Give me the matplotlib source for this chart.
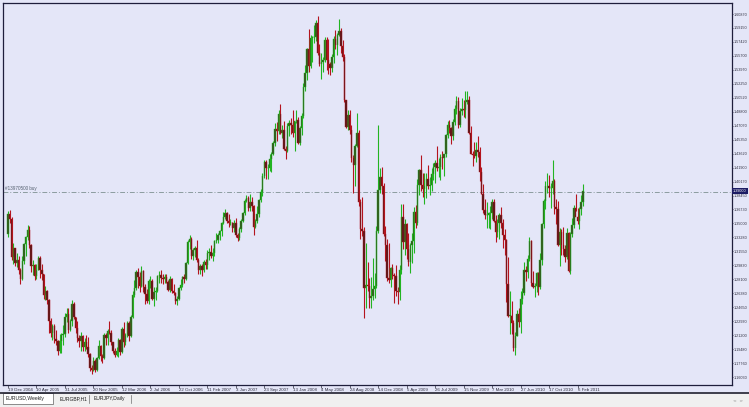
import numpy as np
import matplotlib
matplotlib.use("Agg")
import matplotlib.pyplot as plt
from matplotlib.patches import Rectangle
from matplotlib.transforms import blended_transform_factory

## weekly EURUSD candles, one week per entry (first week starts 19 Dec 2004)
opens = [
    # Dec 2004 - 2005
    1.337, 1.362, 1.356, 1.308, 1.320, 1.301, 1.305, 1.292, 1.282, 1.304,
    1.325, 1.333, 1.342, 1.323, 1.297, 1.299, 1.285, 1.293, 1.307, 1.293,
    1.287, 1.262, 1.266, 1.255, 1.230, 1.215, 1.223, 1.207, 1.205, 1.192,
    1.205, 1.212, 1.213, 1.235, 1.238, 1.218, 1.229, 1.251, 1.234, 1.221,
    1.208, 1.205, 1.211, 1.197, 1.203, 1.198, 1.189, 1.171, 1.169, 1.180,
    1.169, 1.184, 1.199, 1.186,
    # 2006
    1.184, 1.212, 1.208, 1.217, 1.215, 1.203, 1.192, 1.188, 1.192, 1.206,
    1.191, 1.220, 1.204, 1.212, 1.227, 1.211, 1.235, 1.262, 1.270, 1.290,
    1.284, 1.273, 1.291, 1.271, 1.263, 1.254, 1.279, 1.279, 1.257, 1.265,
    1.266, 1.285, 1.286, 1.283, 1.281, 1.284, 1.278, 1.268, 1.282, 1.267,
    1.264, 1.254, 1.257, 1.270, 1.274, 1.284, 1.282, 1.301, 1.327, 1.331,
    1.310, 1.317,
    # 2007
    1.320, 1.305, 1.293, 1.297, 1.292, 1.302, 1.299, 1.313, 1.315, 1.310,
    1.313, 1.328, 1.330, 1.336, 1.341, 1.351, 1.358, 1.363, 1.353, 1.351,
    1.351, 1.345, 1.351, 1.336, 1.332, 1.343, 1.353, 1.363, 1.378, 1.381,
    1.369, 1.376, 1.371, 1.346, 1.353, 1.362, 1.379, 1.389, 1.409, 1.426,
    1.418, 1.419, 1.430, 1.436, 1.450, 1.467, 1.464, 1.485, 1.462, 1.466,
    1.442, 1.440,
    # 2008
    1.470, 1.474, 1.472, 1.462, 1.476, 1.478, 1.450, 1.468, 1.483, 1.519,
    1.536, 1.566, 1.544, 1.579, 1.580, 1.580, 1.597, 1.561, 1.547, 1.550,
    1.552, 1.576, 1.552, 1.547, 1.542, 1.556, 1.578, 1.570, 1.583, 1.588,
    1.569, 1.555, 1.502, 1.469, 1.484, 1.466, 1.431, 1.422, 1.446, 1.462,
    1.377, 1.343, 1.341, 1.270, 1.274, 1.273, 1.258, 1.261, 1.269, 1.273,
    1.341, 1.391, 1.407,
    # 2009
    1.396, 1.337, 1.323, 1.283, 1.280, 1.295, 1.286, 1.285, 1.267, 1.265,
    1.292, 1.358, 1.327, 1.349, 1.318, 1.302, 1.324, 1.328, 1.364, 1.351,
    1.398, 1.416, 1.397, 1.393, 1.396, 1.405, 1.396, 1.398, 1.411, 1.420,
    1.425, 1.418, 1.420, 1.432, 1.431, 1.436, 1.459, 1.472, 1.468, 1.458,
    1.475, 1.491, 1.501, 1.472, 1.489, 1.491, 1.490, 1.500, 1.503, 1.462,
    1.436, 1.434,
    # 2010 - Feb 2011
    1.433, 1.441, 1.438, 1.414, 1.386, 1.367, 1.360, 1.361, 1.363, 1.363,
    1.377, 1.353, 1.339, 1.350, 1.361, 1.350, 1.336, 1.329, 1.275, 1.236,
    1.236, 1.227, 1.196, 1.211, 1.238, 1.228, 1.257, 1.264, 1.293, 1.290,
    1.306, 1.328, 1.276, 1.272, 1.273, 1.289, 1.271, 1.305, 1.349, 1.378,
    1.396, 1.396, 1.394, 1.394, 1.403, 1.370, 1.368, 1.324, 1.340, 1.323,
    1.318, 1.308, 1.338, 1.291, 1.337, 1.348, 1.369, 1.358, 1.353, 1.368,
    1.376,
]

highs = [
    1.366, 1.367, 1.358, 1.326, 1.320, 1.313, 1.310, 1.295, 1.310, 1.326,
    1.335, 1.348, 1.347, 1.325, 1.305, 1.300, 1.300, 1.310, 1.310, 1.300,
    1.288, 1.273, 1.268, 1.257, 1.233, 1.226, 1.226, 1.218, 1.206, 1.213,
    1.215, 1.225, 1.240, 1.245, 1.245, 1.232, 1.256, 1.253, 1.235, 1.230,
    1.212, 1.216, 1.212, 1.208, 1.212, 1.210, 1.190, 1.175, 1.185, 1.183,
    1.185, 1.206, 1.200, 1.189,
    1.215, 1.215, 1.220, 1.230, 1.218, 1.204, 1.196, 1.198, 1.208, 1.207,
    1.222, 1.228, 1.215, 1.230, 1.230, 1.237, 1.266, 1.280, 1.292, 1.295,
    1.290, 1.297, 1.292, 1.275, 1.269, 1.282, 1.285, 1.282, 1.272, 1.272,
    1.286, 1.291, 1.292, 1.288, 1.288, 1.288, 1.280, 1.285, 1.283, 1.275,
    1.265, 1.260, 1.272, 1.281, 1.285, 1.288, 1.303, 1.330, 1.336, 1.333,
    1.320, 1.322,
    1.330, 1.307, 1.300, 1.300, 1.305, 1.306, 1.317, 1.320, 1.323, 1.320,
    1.330, 1.338, 1.338, 1.342, 1.352, 1.364, 1.368, 1.364, 1.362, 1.356,
    1.352, 1.354, 1.357, 1.338, 1.346, 1.355, 1.364, 1.380, 1.385, 1.384,
    1.387, 1.383, 1.373, 1.356, 1.372, 1.380, 1.393, 1.412, 1.428, 1.428,
    1.423, 1.436, 1.438, 1.452, 1.474, 1.475, 1.490, 1.497, 1.472, 1.477,
    1.446, 1.474,
    1.478, 1.480, 1.490, 1.477, 1.490, 1.482, 1.470, 1.486, 1.524, 1.546,
    1.567, 1.590, 1.583, 1.582, 1.595, 1.601, 1.606, 1.572, 1.560, 1.556,
    1.580, 1.580, 1.578, 1.549, 1.559, 1.581, 1.589, 1.585, 1.603, 1.592,
    1.577, 1.559, 1.503, 1.490, 1.490, 1.472, 1.434, 1.448, 1.487, 1.466,
    1.380, 1.383, 1.346, 1.326, 1.303, 1.283, 1.284, 1.307, 1.289, 1.347,
    1.472, 1.419, 1.420,
    1.400, 1.347, 1.331, 1.326, 1.296, 1.300, 1.289, 1.299, 1.271, 1.299,
    1.374, 1.374, 1.356, 1.350, 1.338, 1.326, 1.338, 1.370, 1.373, 1.405,
    1.417, 1.435, 1.412, 1.412, 1.412, 1.422, 1.408, 1.419, 1.425, 1.429,
    1.446, 1.431, 1.436, 1.440, 1.436, 1.461, 1.477, 1.478, 1.469, 1.479,
    1.496, 1.508, 1.506, 1.493, 1.505, 1.502, 1.514, 1.514, 1.507, 1.471,
    1.440, 1.451,
    1.451, 1.458, 1.444, 1.420, 1.399, 1.380, 1.377, 1.364, 1.371, 1.380,
    1.380, 1.361, 1.356, 1.363, 1.370, 1.355, 1.343, 1.331, 1.309, 1.267,
    1.254, 1.231, 1.216, 1.243, 1.246, 1.267, 1.270, 1.303, 1.298, 1.311,
    1.333, 1.329, 1.291, 1.277, 1.290, 1.290, 1.313, 1.350, 1.380, 1.403,
    1.412, 1.410, 1.400, 1.428, 1.405, 1.380, 1.378, 1.344, 1.343, 1.346,
    1.323, 1.344, 1.340, 1.340, 1.357, 1.373, 1.386, 1.369, 1.370, 1.385,
    1.399,
]

lows = [
    1.333, 1.350, 1.305, 1.300, 1.297, 1.296, 1.287, 1.275, 1.280, 1.300,
    1.310, 1.330, 1.320, 1.290, 1.286, 1.280, 1.282, 1.292, 1.283, 1.280,
    1.257, 1.255, 1.250, 1.215, 1.210, 1.206, 1.202, 1.200, 1.187, 1.190,
    1.190, 1.200, 1.210, 1.228, 1.215, 1.217, 1.223, 1.232, 1.215, 1.203,
    1.198, 1.193, 1.192, 1.192, 1.195, 1.185, 1.168, 1.164, 1.168, 1.166,
    1.168, 1.183, 1.180, 1.178,
    1.183, 1.200, 1.200, 1.213, 1.200, 1.190, 1.185, 1.186, 1.185, 1.187,
    1.190, 1.198, 1.200, 1.210, 1.205, 1.210, 1.233, 1.259, 1.268, 1.270,
    1.265, 1.272, 1.265, 1.251, 1.252, 1.250, 1.270, 1.255, 1.248, 1.256,
    1.265, 1.276, 1.276, 1.275, 1.276, 1.276, 1.266, 1.265, 1.264, 1.262,
    1.251, 1.249, 1.256, 1.268, 1.271, 1.276, 1.280, 1.300, 1.318, 1.306,
    1.305, 1.308,
    1.303, 1.287, 1.287, 1.285, 1.290, 1.294, 1.294, 1.305, 1.307, 1.304,
    1.310, 1.326, 1.326, 1.330, 1.334, 1.349, 1.355, 1.350, 1.346, 1.348,
    1.340, 1.340, 1.333, 1.328, 1.330, 1.340, 1.352, 1.361, 1.376, 1.366,
    1.365, 1.365, 1.336, 1.344, 1.350, 1.358, 1.376, 1.384, 1.406, 1.405,
    1.405, 1.415, 1.413, 1.434, 1.446, 1.452, 1.460, 1.461, 1.455, 1.441,
    1.430, 1.438,
    1.458, 1.460, 1.457, 1.439, 1.474, 1.448, 1.447, 1.459, 1.480, 1.513,
    1.527, 1.537, 1.542, 1.550, 1.573, 1.575, 1.558, 1.545, 1.528, 1.537,
    1.550, 1.540, 1.535, 1.533, 1.537, 1.548, 1.565, 1.558, 1.582, 1.561,
    1.551, 1.500, 1.468, 1.465, 1.461, 1.426, 1.388, 1.396, 1.445, 1.371,
    1.331, 1.334, 1.233, 1.245, 1.266, 1.246, 1.246, 1.255, 1.258, 1.270,
    1.338, 1.388, 1.387,
    1.334, 1.304, 1.279, 1.276, 1.271, 1.281, 1.252, 1.260, 1.250, 1.255,
    1.288, 1.318, 1.311, 1.306, 1.297, 1.289, 1.301, 1.314, 1.345, 1.348,
    1.385, 1.390, 1.383, 1.374, 1.382, 1.392, 1.385, 1.390, 1.404, 1.400,
    1.415, 1.408, 1.404, 1.417, 1.409, 1.432, 1.455, 1.462, 1.448, 1.453,
    1.472, 1.485, 1.468, 1.469, 1.484, 1.481, 1.480, 1.498, 1.461, 1.436,
    1.421, 1.431,
    1.426, 1.432, 1.403, 1.386, 1.363, 1.356, 1.344, 1.345, 1.343, 1.355,
    1.352, 1.327, 1.333, 1.331, 1.345, 1.320, 1.311, 1.253, 1.235, 1.214,
    1.214, 1.193, 1.188, 1.211, 1.222, 1.215, 1.250, 1.262, 1.279, 1.283,
    1.304, 1.273, 1.270, 1.259, 1.265, 1.262, 1.269, 1.299, 1.345, 1.368,
    1.388, 1.383, 1.369, 1.387, 1.362, 1.349, 1.322, 1.297, 1.311, 1.311,
    1.302, 1.306, 1.290, 1.287, 1.333, 1.344, 1.365, 1.349, 1.343, 1.360,
    1.372,
]

closes = [
    1.362, 1.356, 1.308, 1.320, 1.301, 1.305, 1.292, 1.282, 1.304, 1.325,
    1.333, 1.342, 1.323, 1.297, 1.299, 1.285, 1.293, 1.307, 1.293, 1.287,
    1.262, 1.266, 1.255, 1.230, 1.215, 1.223, 1.207, 1.205, 1.192, 1.205,
    1.212, 1.213, 1.235, 1.238, 1.218, 1.229, 1.251, 1.234, 1.221, 1.208,
    1.205, 1.211, 1.197, 1.203, 1.198, 1.189, 1.171, 1.169, 1.180, 1.169,
    1.184, 1.199, 1.186, 1.184,
    1.212, 1.208, 1.217, 1.215, 1.203, 1.192, 1.188, 1.192, 1.206, 1.191,
    1.220, 1.204, 1.212, 1.227, 1.211, 1.235, 1.262, 1.270, 1.290, 1.284,
    1.273, 1.291, 1.271, 1.263, 1.254, 1.279, 1.279, 1.257, 1.265, 1.266,
    1.285, 1.286, 1.283, 1.281, 1.284, 1.278, 1.268, 1.282, 1.267, 1.264,
    1.254, 1.257, 1.270, 1.274, 1.284, 1.282, 1.301, 1.327, 1.331, 1.310,
    1.317, 1.320,
    1.305, 1.293, 1.297, 1.292, 1.302, 1.299, 1.313, 1.315, 1.310, 1.313,
    1.328, 1.330, 1.336, 1.341, 1.351, 1.358, 1.363, 1.353, 1.351, 1.351,
    1.345, 1.351, 1.336, 1.332, 1.343, 1.353, 1.363, 1.378, 1.381, 1.369,
    1.376, 1.371, 1.346, 1.353, 1.362, 1.379, 1.389, 1.409, 1.426, 1.418,
    1.419, 1.430, 1.436, 1.450, 1.467, 1.464, 1.485, 1.462, 1.466, 1.442,
    1.440, 1.470,
    1.474, 1.472, 1.462, 1.476, 1.478, 1.450, 1.468, 1.483, 1.519, 1.536,
    1.566, 1.544, 1.579, 1.580, 1.580, 1.597, 1.561, 1.547, 1.550, 1.552,
    1.576, 1.552, 1.547, 1.542, 1.556, 1.578, 1.570, 1.583, 1.588, 1.569,
    1.555, 1.502, 1.469, 1.484, 1.466, 1.431, 1.422, 1.446, 1.462, 1.377,
    1.343, 1.341, 1.270, 1.274, 1.273, 1.258, 1.261, 1.269, 1.273, 1.341,
    1.391, 1.407, 1.396,
    1.337, 1.323, 1.283, 1.280, 1.295, 1.286, 1.285, 1.267, 1.265, 1.292,
    1.358, 1.327, 1.349, 1.318, 1.302, 1.324, 1.328, 1.364, 1.351, 1.398,
    1.416, 1.397, 1.393, 1.396, 1.405, 1.396, 1.398, 1.411, 1.420, 1.425,
    1.418, 1.420, 1.432, 1.431, 1.436, 1.459, 1.472, 1.468, 1.458, 1.475,
    1.491, 1.501, 1.472, 1.489, 1.491, 1.490, 1.500, 1.503, 1.462, 1.436,
    1.434, 1.433,
    1.441, 1.438, 1.414, 1.386, 1.367, 1.360, 1.361, 1.363, 1.363, 1.377,
    1.353, 1.339, 1.350, 1.361, 1.350, 1.336, 1.329, 1.275, 1.236, 1.236,
    1.227, 1.196, 1.211, 1.238, 1.228, 1.257, 1.264, 1.293, 1.290, 1.306,
    1.328, 1.276, 1.272, 1.273, 1.289, 1.271, 1.305, 1.349, 1.378, 1.396,
    1.396, 1.394, 1.394, 1.403, 1.370, 1.368, 1.324, 1.340, 1.323, 1.318,
    1.308, 1.338, 1.291, 1.337, 1.348, 1.369, 1.358, 1.353, 1.368, 1.376,
    1.390,
]

## time axis labels (every 16 weeks)
date_pos = [0, 16, 32, 48, 64, 80, 96, 112, 128, 144, 160,
            176, 192, 208, 224, 240, 256, 272, 288, 304, 320]
date_labels = ["19 Dec 2004", "10 Apr 2005", "31 Jul 2005", "20 Nov 2005",
               "12 Mar 2006", "2 Jul 2006", "22 Oct 2006", "11 Feb 2007",
               "3 Jun 2007", "23 Sep 2007", "13 Jan 2008", "4 May 2008",
               "24 Aug 2008", "14 Dec 2008", "5 Apr 2009", "26 Jul 2009",
               "15 Nov 2009", "7 Mar 2010", "27 Jun 2010", "17 Oct 2010",
               "6 Feb 2011"]

## price scale on the right
price_ticks = [1.6087, 1.5915, 1.5742, 1.5570, 1.5397, 1.5225, 1.5052,
               1.4880, 1.4707, 1.4535, 1.4362, 1.4190, 1.4017, 1.3845,
               1.3673, 1.3500, 1.3328, 1.3155, 1.2983, 1.2810, 1.2638,
               1.2465, 1.2293, 1.2120, 1.1948, 1.1776, 1.1603]

order_price = 1.3885
order_label = "#13970500 buy"
tabs = ["EURUSD,Weekly", "EURGBP,H1", "EURJPY,Daily"]

W, H = 749, 407
BG = "#E4E6F8"
UP_WICK, UP_BODY = "#22B422", "#34501C"
DN_WICK, DN_BODY = "#B4141E", "#541818"
FONT = ["Liberation Sans", "DejaVu Sans"]

fig = plt.figure(figsize=(W / 100, H / 100), dpi=100, facecolor=BG)

def px(x0, y0, x1, y1):
    # pixel box (top-left origin) -> figure fraction rect
    return [x0 / W, 1 - y1 / H, (x1 - x0) / W, (y1 - y0) / H]

ax = fig.add_axes(px(3, 3, 732, 385))
ax.set_facecolor(BG)

o = np.array(opens)
h = np.array(highs)
l = np.array(lows)
c = np.array(closes)
x = np.arange(len(c))
up = c >= o

ax.vlines(x[up], l[up], h[up], color=UP_WICK, linewidth=0.8, zorder=2)
ax.vlines(x[~up], l[~up], h[~up], color=DN_WICK, linewidth=0.8, zorder=2)
body_lo = np.minimum(o, c)
body_h = np.maximum(np.abs(c - o), 0.0004)
ax.bar(x[up], body_h[up], bottom=body_lo[up], width=0.8,
       color=UP_BODY, edgecolor=UP_WICK, linewidth=0.3, zorder=3)
ax.bar(x[~up], body_h[~up], bottom=body_lo[~up], width=0.8,
       color=DN_BODY, edgecolor=DN_WICK, linewidth=0.3, zorder=3)

## order line
ax.axhline(order_price, color="#8C9CA0", linewidth=0.7,
           linestyle=(0, (5, 2, 1, 2)), zorder=1)
ax.text(-1.5, order_price + 0.002, order_label, fontsize=3.3,
        family=FONT, color="#556070", va="bottom", ha="left")

ax.set_xlim(-2.8, 406.8)
ax.set_ylim(1.1505, 1.6223)

ax.yaxis.tick_right()
ax.set_yticks(price_ticks)
ax.set_yticklabels(["%.5f" % p for p in price_ticks], family=FONT)
ax.tick_params(axis="y", direction="out", length=0.8, width=0.5,
               labelsize=2.7, pad=0.3, colors="#303040")
ax.set_xticks(date_pos)
ax.set_xticklabels(date_labels, family=FONT)
ax.tick_params(axis="x", direction="out", length=2, width=0.5,
               labelsize=3.2, pad=0.5, colors="#303040")
for t in ax.get_xticklabels():
    t.set_ha("left")

for s in ax.spines.values():
    s.set_color("#1E1E3C")
    s.set_linewidth(0.9)

## current price box on the price scale
trans = blended_transform_factory(ax.transAxes, ax.transData)
ax.text(1.0015, closes[-1], "%.5f" % closes[-1], transform=trans,
        fontsize=2.7, family=FONT, color="white", va="center",
        ha="left", zorder=5,
        bbox=dict(boxstyle="square,pad=0.25", fc="#1C1C64", ec="none"),
        clip_on=False)

## terminal tab strip at the bottom
strip = fig.add_axes(px(0, 392, 749, 407))
strip.set_xlim(0, W)
strip.set_ylim(407, 392)
strip.axis("off")
strip.add_patch(Rectangle((0, 392), W, 15, fc="#F0F0F0", ec="none"))
strip.plot([0, W], [392.5, 392.5], color="#202030", linewidth=1.2)
tab_x = [3, 57, 91]
tab_w = [50, 32, 40]
for i, (tx, tw, name) in enumerate(zip(tab_x, tab_w, tabs)):
    if i == 0:
        strip.add_patch(Rectangle((tx, 393), tw, 11, fc="white",
                                  ec="#606060", linewidth=0.5))
    else:
        strip.plot([tx + tw, tx + tw], [395, 403], color="#707070",
                   linewidth=0.5)
    strip.text(tx + 3, 398.8, name, fontsize=3.6, family=FONT,
               color="#202020", va="center", ha="left")
strip.text(738, 401, "<  >", fontsize=3.2, color="#808080",
           va="center", ha="center")

fig.savefig("out.png", dpi=100, facecolor=BG)
